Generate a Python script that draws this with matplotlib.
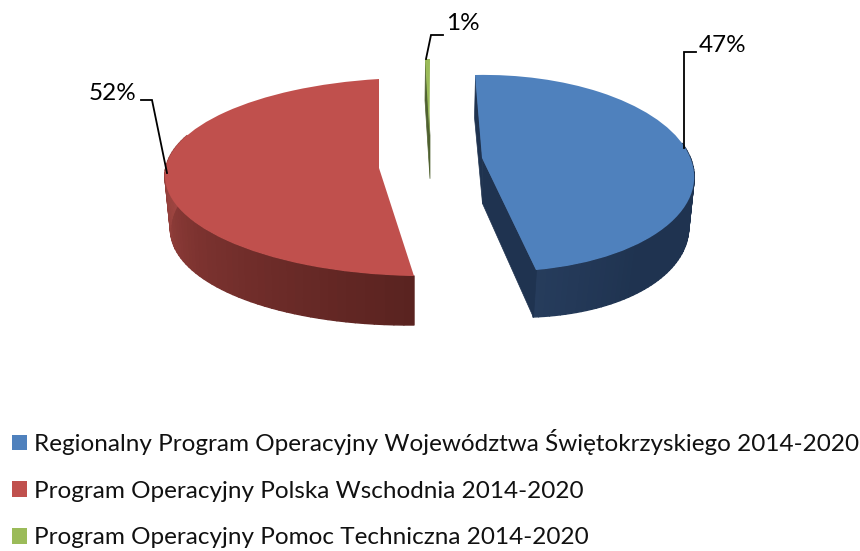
import numpy as np
import matplotlib
matplotlib.use("Agg")
import matplotlib.pyplot as plt
from matplotlib.collections import PolyCollection
from matplotlib.colors import LinearSegmentedColormap
from matplotlib.transforms import Transform

# Data
labels = ["Regionalny Program Operacyjny Województwa Świętokrzyskiego 2014-2020",
          "Program Operacyjny Polska Wschodnia 2014-2020",
          "Program Operacyjny Pomoc Techniczna 2014-2020"]
values = [47, 52, 1]
colors = ["#4f81bd", "#c0504d", "#9bbb59"]

plt.rcParams['font.family'] = ['Lato', 'DejaVu Sans']


# perspective of the slices: apex, first edge, second edge, point on rim
def solve_h(src, dst):
    a = []
    b = []
    for (u, v), (x, y) in zip(src, dst):
        a.append([u, v, 1, 0, 0, 0, -u*x, -v*x])
        a.append([0, 0, 0, u, v, 1, -u*y, -v*y])
        b += [x, y]
    return np.append(np.linalg.solve(np.array(a), np.array(b)), 1).reshape(3, 3)


class Persp(Transform):
    input_dims = 2
    output_dims = 2
    is_separable = False
    has_inverse = False

    def __init__(self, h):
        super().__init__()
        self.h = h

    def transform_non_affine(self, xy):
        xy = np.asarray(xy, dtype=float)
        p = np.column_stack([xy, np.ones(len(xy))]) @ self.h.T
        return p[:, :2] / p[:, 2:]


def disk(deg):
    return (np.cos(np.radians(deg)), np.sin(np.radians(deg)))


# pixel anchors for the top and the bottom outline of each slice
rim_angle = [0, 180, 180]
top_px = [[(482, 158), (536, 270), (475, 75), (690, 157)],
          [(379, 168), (379, 79), (414, 276), (167, 163)],
          [(429.5, 135), (430, 59), (425, 59), (350, 135)]]
bot_px = [[(482, 203), (533, 317), (474, 117), (685, 207)],
          [(379, 214), (379, 125), (414, 325), (173, 215)],
          [(429.5, 178), (430, 100), (424.5, 100), (350, 178)]]
# part of the rim (degrees) that faces the viewer, dark end first
wall_span = [(-79.2, 8), (-79.2, -200), None]
wall_cols = [["#263c5c", "#1f3350", "#1f3350", "#1f3350"],
             ["#5a2320", "#7d3330", "#a84b46"],
             ["#4f6130", "#4f6130"]]

fig = plt.figure(figsize=(8.6, 5.51), dpi=100)
ax = fig.add_axes([0, 0, 1, 1])

wedges, _ = ax.pie(values, colors=colors, startangle=90, counterclock=False,
                   wedgeprops=dict(linewidth=0))
ax.set_aspect('auto')
ax.set_xlim(0, 860)
ax.set_ylim(551, 0)
ax.axis('off')

for i, w in enumerate(wedges):
    src = [(0, 0), disk(w.theta1), disk(w.theta2), disk(rim_angle[i])]
    top = Persp(solve_h(src, top_px[i]))
    bot = Persp(solve_h(src, bot_px[i]))
    w.set_transform(top + ax.transData)
    w.set_zorder(3)

    # rim wall
    if wall_span[i] is not None:
        th = np.linspace(wall_span[i][0], wall_span[i][1], 60)
        ring = np.column_stack([np.cos(np.radians(th)), np.sin(np.radians(th))])
        a = top.transform_non_affine(ring)
        b = bot.transform_non_affine(ring)
        quads = [[a[k], a[k+1], b[k+1], b[k]] for k in range(len(th)-1)]
        cmap = LinearSegmentedColormap.from_list("wall", wall_cols[i])
        fc = cmap(np.linspace(0, 1, len(quads)))
        ax.add_collection(PolyCollection(quads, facecolors=fc, edgecolors=fc,
                                         linewidths=1.0, zorder=2))

    # cut faces that can be seen
    o_t = top.transform_non_affine(np.array([[0.0, 0.0]]))[0]
    o_b = bot.transform_non_affine(np.array([[0.0, 0.0]]))[0]
    face_col = wall_cols[i][-1]
    if i == 0:
        for deg in [w.theta1, w.theta2]:
            e = np.array([disk(deg)])
            ax.add_collection(PolyCollection([[top.transform_non_affine(e)[0], o_t, o_b,
                                               bot.transform_non_affine(e)[0]]],
                                             facecolors=face_col, edgecolors=face_col,
                                             linewidths=0.5, zorder=2))
    if i == 2:
        e = np.array([disk(w.theta2)])
        ax.add_collection(PolyCollection([[top.transform_non_affine(e)[0], o_t, o_b,
                                           bot.transform_non_affine(e)[0]]],
                                         facecolors=face_col, edgecolors=face_col,
                                         linewidths=0.5, zorder=2))

# data labels and leader lines
label_pos = [(723, 45), (113, 93), (463, 23)]
leaders = [[(684, 148), (684, 52), (696, 52)],
           [(167, 173), (152, 100), (141, 100)],
           [(426, 59), (431, 35), (443, 35)]]
for v, pos, line in zip(values, label_pos, leaders):
    ax.plot(*zip(*line), color="black", lw=1.3, zorder=4, solid_joinstyle='miter')
    ax.text(pos[0], pos[1], f"{v}%", fontsize=17.5, color="black", ha="center", va="center")

leg = ax.legend(wedges, labels, loc="upper left", bbox_to_anchor=(12/860, 1-429/551),
                frameon=False, fontsize=17.45, handlelength=0.62, handleheight=0.62,
                handletextpad=0.3, labelspacing=1.06, borderaxespad=0, borderpad=0)
for t in leg.get_texts():
    t.set_color("#111111")

fig.savefig("out.png", dpi=100)
